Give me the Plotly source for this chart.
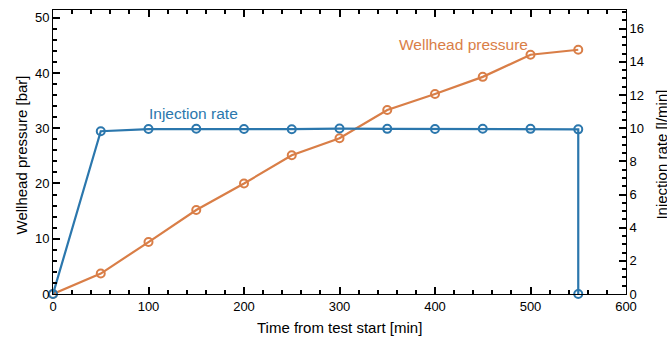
import plotly.graph_objects as go

# Data
time_pressure = [0, 50, 100, 150, 200, 250, 300, 350, 400, 450, 500, 550]
wellhead_pressure = [0.0, 3.7, 9.4, 15.2, 20.0, 25.1, 28.2, 33.3, 36.2, 39.3, 43.3, 44.2]

time_rate = [0, 50, 100, 150, 200, 250, 300, 350, 400, 450, 500, 550, 550]
injection_rate = [0.0, 9.82, 9.95, 9.97, 9.95, 9.94, 9.98, 9.96, 9.95, 9.97, 9.96, 9.93, 0.0]

x_ticks = [0, 100, 200, 300, 400, 500, 600]
left_ticks = [0, 10, 20, 30, 40, 50]
right_ticks = [0, 2, 4, 6, 8, 10, 12, 14, 16]

BLUE = "#2b77ad"
ORANGE = "#d97e47"
FONT = "Liberation Sans, Arial, Helvetica, sans-serif"

fig = go.Figure()

fig.add_trace(go.Scatter(
    x=time_pressure, y=wellhead_pressure, mode="lines+markers",
    line=dict(color=ORANGE, width=2.2),
    marker=dict(symbol="circle-open", size=8, color=ORANGE, line=dict(width=2, color=ORANGE)),
    cliponaxis=False, showlegend=False, yaxis="y",
))
fig.add_trace(go.Scatter(
    x=time_rate, y=injection_rate, mode="lines+markers",
    line=dict(color=BLUE, width=2.2),
    marker=dict(symbol="circle-open", size=8, color=BLUE, line=dict(width=2, color=BLUE)),
    cliponaxis=False, showlegend=False, yaxis="y2",
))

base = dict(showgrid=False, zeroline=False, showline=True, linecolor="black", linewidth=1,
            ticks="inside", ticklen=7, tickwidth=1.5, tickcolor="black", automargin=False)
minor_base = dict(ticks="inside", ticklen=4, tickwidth=1.5, tickcolor="black", showgrid=False)

fig.update_layout(
    width=667, height=340,
    margin=dict(l=53, r=41, t=10, b=46),
    plot_bgcolor="white",
    font=dict(family=FONT, size=13, color="black"),
    showlegend=False,
    xaxis=dict(**base, range=[0, 600], tickvals=x_ticks, mirror="ticks",
               minor=dict(dtick=20, **minor_base)),
    yaxis=dict(**base, range=[0, 51.4], tickvals=left_ticks,
               minor=dict(dtick=2, **minor_base)),
    yaxis2=dict(**base, range=[0, 17.13], tickvals=right_ticks, overlaying="y", side="right",
                minor=dict(dtick=0.5, **minor_base)),
    annotations=[
        dict(x=147, y=32.6, xref="x", yref="y", text="Injection rate", showarrow=False,
             xanchor="center", yanchor="middle",
             font=dict(family=FONT, size=15.5, color=BLUE)),
        dict(x=430, y=45.1, xref="x", yref="y", text="Wellhead pressure", showarrow=False,
             xanchor="center", yanchor="middle",
             font=dict(family=FONT, size=15.5, color=ORANGE)),
        dict(x=0.5, y=-0.1165, xref="paper", yref="paper", text="Time from test start [min]",
             xanchor="center", yanchor="middle",
             showarrow=False, font=dict(family=FONT, size=15, color="black")),
        dict(x=-0.0542, y=0.491, xref="paper", yref="paper", text="Wellhead pressure [bar]",
             xanchor="center", yanchor="middle",
             textangle=-90, showarrow=False, font=dict(family=FONT, size=15, color="black")),
        dict(x=1.0612, y=0.491, xref="paper", yref="paper", text="Injection rate [l/min]",
             xanchor="center", yanchor="middle",
             textangle=-90, showarrow=False, font=dict(family=FONT, size=15, color="black")),
    ],
)

fig.write_html("out.html", config={"displayModeBar": False},
               post_script="document.body.style.margin='0';")
